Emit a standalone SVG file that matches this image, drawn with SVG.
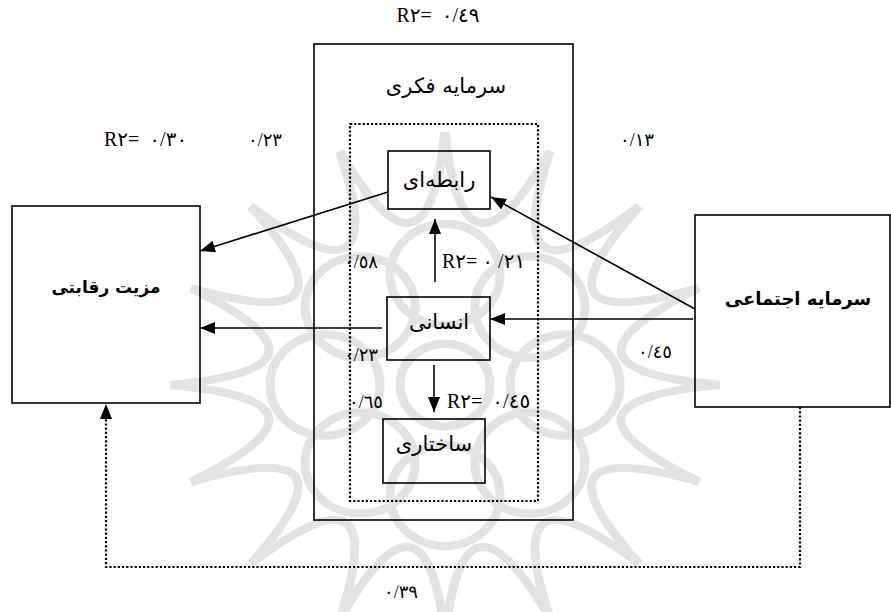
<svg xmlns="http://www.w3.org/2000/svg" width="891" height="612" viewBox="0 0 891 612">
<defs>
<style>
.box{fill:none;stroke:#000;stroke-width:1.6}
.dot{fill:none;stroke:#000;stroke-width:2.2;stroke-dasharray:2.2 2}
.ln{fill:none;stroke:#000;stroke-width:1.6}
.wm{fill:none;stroke:#e3e3e3;stroke-width:9}
.fa{font-family:"DejaVu Sans","Noto Sans",sans-serif;font-size:21px;fill:#000;text-anchor:middle;direction:rtl}
.fb{font-family:"DejaVu Sans","Noto Sans",sans-serif;font-weight:bold;fill:#000;text-anchor:middle;direction:rtl}
.lb{font-family:"Liberation Serif","DejaVu Sans",serif;font-size:18px;fill:#000;direction:ltr;unicode-bidi:bidi-override}
.lr{font-size:20px}
</style>
<marker id="ah" viewBox="0 0 15 12" refX="15" refY="6" markerWidth="15" markerHeight="12" markerUnits="userSpaceOnUse" orient="auto">
<path d="M0,0 L15,6 L0,12 Z" fill="#000"/>
</marker>
<path id="seg" d="M275,0 Q88,18 254,105"/>
<circle id="lobe" cx="120" cy="0" r="55"/>
</defs>
<rect width="891" height="612" fill="#fff"/>

<g id="watermark" class="wm" transform="translate(445,385) scale(1,0.92)">
<use href="#seg"/>
<use href="#seg" transform="rotate(22.5)"/>
<use href="#seg" transform="rotate(45)"/>
<use href="#seg" transform="rotate(67.5)"/>
<use href="#seg" transform="rotate(90)"/>
<use href="#seg" transform="rotate(112.5)"/>
<use href="#seg" transform="rotate(135)"/>
<use href="#seg" transform="rotate(157.5)"/>
<use href="#seg" transform="rotate(180)"/>
<use href="#seg" transform="rotate(202.5)"/>
<use href="#seg" transform="rotate(225)"/>
<use href="#seg" transform="rotate(247.5)"/>
<use href="#seg" transform="rotate(270)"/>
<use href="#seg" transform="rotate(292.5)"/>
<use href="#seg" transform="rotate(315)"/>
<use href="#seg" transform="rotate(337.5)"/>
<use href="#lobe"/>
<use href="#lobe" transform="rotate(45)"/>
<use href="#lobe" transform="rotate(90)"/>
<use href="#lobe" transform="rotate(135)"/>
<use href="#lobe" transform="rotate(180)"/>
<use href="#lobe" transform="rotate(225)"/>
<use href="#lobe" transform="rotate(270)"/>
<use href="#lobe" transform="rotate(315)"/>
<circle r="45"/>
</g>

<g id="intellectual-capital">
<rect class="box" x="314" y="44" width="259" height="476"/>
<rect class="dot" x="350" y="124" width="188" height="377"/>
<text class="fa" x="446" y="93">سرمایه فکری</text>
</g>

<g id="relational">
<rect class="box" x="388" y="151" width="102" height="58"/>
<text class="fa" x="439" y="187">رابطه‌ای</text>
</g>

<g id="human">
<rect class="box" x="387" y="297" width="103" height="63"/>
<text class="fa" x="439" y="329">انسانی</text>
</g>

<g id="structural">
<rect class="box" x="383" y="419" width="102" height="64"/>
<text class="fa" x="434" y="451" font-size="22">ساختاری</text>
</g>

<g id="competitive-advantage">
<rect class="box" x="12" y="206" width="188" height="197"/>
<text class="fb" x="106" y="293" font-size="17">مزیت رقابتی</text>
</g>

<g id="social-capital">
<rect class="box" x="695" y="215" width="195" height="192"/>
<text class="fb" x="798" y="305" font-size="18">سرمایه اجتماعی</text>
</g>

<g id="connectors">
<line class="ln" x1="388" y1="192" x2="200" y2="251" marker-end="url(#ah)"/>
<line class="ln" x1="382" y1="328" x2="200" y2="328" marker-end="url(#ah)"/>
<line class="ln" x1="435" y1="282" x2="435" y2="219" marker-end="url(#ah)"/>
<line class="ln" x1="434" y1="365" x2="434" y2="412" marker-end="url(#ah)"/>
<line class="ln" x1="695" y1="309" x2="491" y2="197" marker-end="url(#ah)"/>
<line class="ln" x1="693" y1="319" x2="490" y2="319" marker-end="url(#ah)"/>
<polyline class="dot" points="800,407 800,567 106,567 106,419"/>
<path d="M100,419 L106,404 L112,419 Z" fill="#000"/>
</g>

<g id="labels">
<text class="lb lr" x="438" y="22" text-anchor="middle">R٢=&#160; ٠/٤٩</text>
<text class="lb lr" x="104" y="146">R٢=&#160; ٠/٣٠</text>
<text class="lb" x="248" y="146">٠/٢٣</text>
<text class="lb" x="620" y="146">٠/١٣</text>
<text class="lb" x="344" y="268">٠/٥٨</text>
<text class="lb lr" x="442" y="268">R٢= ٠&#160;/٢١</text>
<text class="lb" x="344" y="361">٠/٢٣</text>
<text class="lb" x="349" y="408">٠/٦٥</text>
<text class="lb lr" x="447" y="408">R٢=&#160; ٠/٤٥</text>
<text class="lb" x="638" y="358">٠/٤٥</text>
<text class="lb" x="384" y="598">٠/٣٩</text>
</g>
</svg>
